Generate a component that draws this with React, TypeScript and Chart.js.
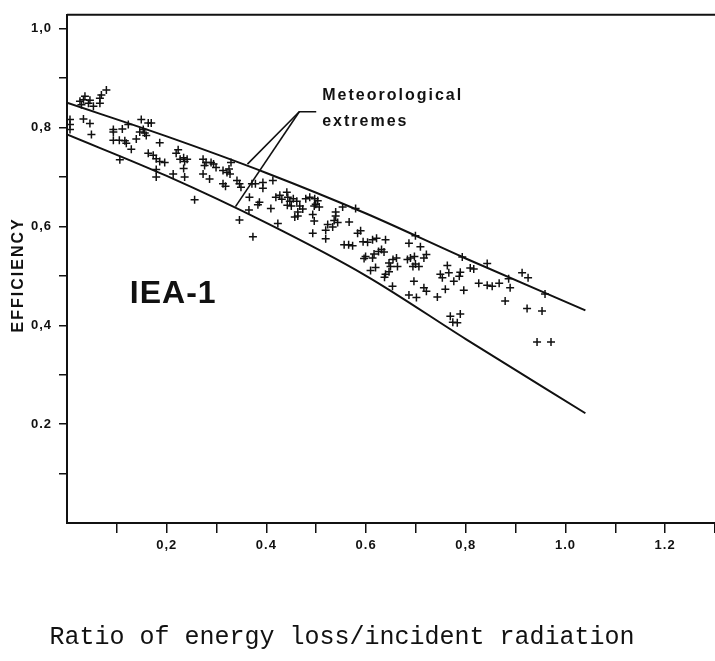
import { useEffect, useRef } from 'react';
import { Chart, registerables } from 'chart.js';

Chart.register(...registerables);

// Measured points: [ratio of energy loss / incident radiation, efficiency]
const measuredPoints: [number, number][] = [
  [0.026, 0.853], [0.033, 0.856], [0.036, 0.863], [0.043, 0.849], [0.029, 0.846], [0.046, 0.855],
  [0.053, 0.843], [0.066, 0.859], [0.066, 0.849], [0.069, 0.866], [0.079, 0.876],
  [0.006, 0.816], [0.006, 0.806], [0.006, 0.796], [0.033, 0.817], [0.046, 0.808], [0.049, 0.786],
  [0.093, 0.796], [0.093, 0.791], [0.111, 0.797], [0.123, 0.806],
  [0.149, 0.816], [0.163, 0.809], [0.169, 0.809], [0.153, 0.796], [0.156, 0.789], [0.159, 0.784],
  [0.146, 0.791], [0.139, 0.777],
  [0.093, 0.774], [0.105, 0.774], [0.116, 0.773], [0.119, 0.768], [0.129, 0.756], [0.106, 0.735],
  [0.186, 0.769], [0.163, 0.748], [0.173, 0.744], [0.179, 0.737], [0.186, 0.731], [0.196, 0.729],
  [0.223, 0.755], [0.219, 0.748], [0.227, 0.736], [0.234, 0.739], [0.241, 0.736], [0.236, 0.731],
  [0.179, 0.715], [0.179, 0.7], [0.213, 0.706], [0.234, 0.717], [0.236, 0.7], [0.256, 0.654],
  [0.273, 0.736], [0.279, 0.729], [0.276, 0.723], [0.273, 0.706], [0.289, 0.729], [0.294, 0.726],
  [0.299, 0.719], [0.286, 0.696], [0.313, 0.713], [0.321, 0.709], [0.325, 0.716], [0.327, 0.706],
  [0.329, 0.729], [0.313, 0.686], [0.318, 0.681], [0.341, 0.693], [0.346, 0.686], [0.349, 0.679],
  [0.366, 0.659], [0.371, 0.686], [0.378, 0.686], [0.393, 0.689], [0.393, 0.677], [0.413, 0.693],
  [0.386, 0.649], [0.383, 0.644], [0.409, 0.636],
  [0.419, 0.659], [0.427, 0.663], [0.431, 0.655], [0.441, 0.669], [0.443, 0.659], [0.447, 0.651],
  [0.454, 0.656], [0.461, 0.651], [0.45, 0.641], [0.442, 0.643],
  [0.467, 0.641], [0.473, 0.635], [0.463, 0.629],
  [0.479, 0.656], [0.487, 0.659], [0.497, 0.656], [0.503, 0.652], [0.499, 0.645], [0.506, 0.639],
  [0.496, 0.641], [0.457, 0.619], [0.463, 0.621], [0.493, 0.624], [0.496, 0.611],
  [0.539, 0.629], [0.539, 0.621], [0.536, 0.612], [0.543, 0.608], [0.533, 0.599], [0.523, 0.604],
  [0.519, 0.592], [0.519, 0.575], [0.493, 0.586], [0.553, 0.639],
  [0.423, 0.606], [0.346, 0.613], [0.373, 0.579], [0.365, 0.633],
  [0.566, 0.609], [0.579, 0.636], [0.589, 0.591], [0.583, 0.586], [0.556, 0.563], [0.565, 0.563],
  [0.573, 0.561], [0.594, 0.569], [0.603, 0.568], [0.613, 0.573], [0.621, 0.576], [0.639, 0.573],
  [0.625, 0.549], [0.631, 0.553], [0.636, 0.548], [0.616, 0.544], [0.599, 0.539], [0.596, 0.535],
  [0.613, 0.536], [0.619, 0.517], [0.609, 0.511],
  [0.646, 0.526], [0.649, 0.519], [0.654, 0.533], [0.661, 0.536], [0.663, 0.519], [0.646, 0.508],
  [0.639, 0.503], [0.637, 0.497], [0.653, 0.479],
  [0.686, 0.566], [0.709, 0.559], [0.683, 0.533], [0.689, 0.536], [0.697, 0.539], [0.699, 0.524],
  [0.694, 0.519], [0.706, 0.519], [0.716, 0.536], [0.721, 0.543],
  [0.696, 0.489], [0.686, 0.461], [0.701, 0.456], [0.716, 0.476], [0.721, 0.469], [0.743, 0.457],
  [0.699, 0.581],
  [0.793, 0.538], [0.763, 0.521], [0.766, 0.506], [0.749, 0.503], [0.753, 0.496], [0.776, 0.489],
  [0.789, 0.507], [0.787, 0.499], [0.809, 0.516], [0.816, 0.514],
  [0.759, 0.473], [0.796, 0.471], [0.843, 0.525], [0.826, 0.485], [0.843, 0.481], [0.853, 0.479],
  [0.867, 0.485], [0.886, 0.494], [0.889, 0.476],
  [0.913, 0.506], [0.925, 0.496], [0.879, 0.449], [0.923, 0.434], [0.953, 0.429], [0.959, 0.463],
  [0.769, 0.418], [0.789, 0.423], [0.774, 0.406], [0.783, 0.405], [0.943, 0.366], [0.971, 0.366],
];

// Meteorological extremes (upper and lower envelope curves)
const upperRatio = [0, 0.2, 0.4, 0.6, 0.8, 1.04];
const upperEfficiency = [0.85, 0.782, 0.708, 0.626, 0.535, 0.43];
const lowerRatio = [0, 0.2, 0.4, 0.6, 0.8, 1.04];
const lowerEfficiency = [0.786, 0.702, 0.607, 0.5, 0.372, 0.222];

// Leader lines from the note to both curves
const leaderUpperRatio = [0.5, 0.466, 0.362];
const leaderUpperEfficiency = [0.832, 0.832, 0.726];
const leaderLowerRatio = [0.466, 0.338];
const leaderLowerEfficiency = [0.832, 0.64];

const xTickValues = [0.1, 0.2, 0.3, 0.4, 0.5, 0.6, 0.7, 0.8, 0.9, 1.0, 1.1, 1.2, 1.3];
const xTickLabels = ['', '0,2', '', '0.4', '', '0.6', '', '0,8', '', '1.0', '', '1.2', ''];
const yTickValues = [0.1, 0.2, 0.3, 0.4, 0.5, 0.6, 0.7, 0.8, 0.9, 1.0];
const yTickLabels = ['', '0.2', '', '0,4', '', '0,6', '', '0,8', '', '1,0'];

const xTitle = 'Ratio of energy loss/incident radiation';
const yTitle = 'EFFICIENCY';
const seriesLabel = 'IEA-1';
const noteLines = ['Meteorological', 'extremes'];

const INK = '#111';
const SANS = '"Liberation Sans", Arial, Helvetica, sans-serif';

const toXY = (xs: number[], ys: number[]) => xs.map((x, i) => ({ x, y: ys[i] }));

const annotationPlugin = {
  id: 'annotations',
  beforeDraw(chart: any) {
    chart.ctx.letterSpacing = '1px';
  },
  afterDraw(chart: any) {
    const { ctx, chartArea, scales } = chart;
    const xs = scales.x;
    const ys = scales.y;
    ctx.save();
    // top frame line
    ctx.strokeStyle = INK;
    ctx.lineWidth = 2;
    ctx.beginPath();
    ctx.moveTo(chartArea.left, chartArea.top);
    ctx.lineTo(chartArea.right, chartArea.top);
    ctx.stroke();

    ctx.fillStyle = INK;
    ctx.textBaseline = 'middle';
    ctx.textAlign = 'left';

    ctx.font = `bold 32px ${SANS}`;
    ctx.letterSpacing = '1px';
    ctx.fillText(seriesLabel, xs.getPixelForValue(0.126), ys.getPixelForValue(0.462));

    ctx.font = `bold 16px ${SANS}`;
    ctx.letterSpacing = '2px';
    ctx.fillText(noteLines[0], xs.getPixelForValue(0.512), ys.getPixelForValue(0.864));
    ctx.fillText(noteLines[1], xs.getPixelForValue(0.512), ys.getPixelForValue(0.812));

    ctx.save();
    ctx.translate(19, (chartArea.top + chartArea.bottom) / 2 + 6);
    ctx.rotate(-Math.PI / 2);
    ctx.textAlign = 'center';
    ctx.fillText(yTitle, 0, 0);
    ctx.restore();

    ctx.font = `25px "Liberation Mono", "Courier New", monospace`;
    ctx.letterSpacing = '0px';
    ctx.textAlign = 'center';
    ctx.fillText(xTitle, chartArea.left + 275, chartArea.bottom + 114);
    ctx.restore();
    ctx.letterSpacing = '0px';
  },
};

export default function App() {
  const canvasRef = useRef<HTMLCanvasElement | null>(null);

  useEffect(() => {
    const canvas = canvasRef.current;
    if (!canvas) return;
    const lineStyle = {
      showLine: true,
      borderColor: INK,
      backgroundColor: INK,
      pointRadius: 0,
      pointHoverRadius: 0,
      fill: false,
    };
    const chart = new Chart(canvas, {
      type: 'scatter',
      data: {
        datasets: [
          {
            label: 'Measured',
            data: measuredPoints.map(([x, y]) => ({ x, y })),
            pointStyle: 'cross',
            pointRadius: 4,
            pointBorderWidth: 1.5,
            borderColor: INK,
            backgroundColor: INK,
            showLine: false,
          },
          {
            label: 'Upper extreme',
            data: toXY(upperRatio, upperEfficiency),
            ...lineStyle,
            borderWidth: 2,
            cubicInterpolationMode: 'monotone',
          },
          {
            label: 'Lower extreme',
            data: toXY(lowerRatio, lowerEfficiency),
            ...lineStyle,
            borderWidth: 2,
            cubicInterpolationMode: 'monotone',
          },
          {
            label: 'Leader upper',
            data: toXY(leaderUpperRatio, leaderUpperEfficiency),
            ...lineStyle,
            borderWidth: 1.6,
            tension: 0,
          },
          {
            label: 'Leader lower',
            data: toXY(leaderLowerRatio, leaderLowerEfficiency),
            ...lineStyle,
            borderWidth: 1.6,
            tension: 0,
          },
        ] as any,
      },
      options: {
        animation: false,
        responsive: false,
        devicePixelRatio: 1,
        layout: { autoPadding: false, padding: { top: 9, left: 0, right: 0, bottom: 0 } },
        plugins: {
          legend: { display: false },
          tooltip: { enabled: false },
        },
        scales: {
          x: {
            type: 'linear',
            position: 'bottom',
            min: 0,
            max: 1.3,
            afterBuildTicks: (scale: any) => {
              scale.ticks = xTickValues.map((value) => ({ value }));
            },
            afterFit: (scale: any) => {
              scale.height = 138;
              scale.paddingLeft = 0;
              scale.paddingRight = 0;
            },
            grid: {
              drawOnChartArea: false,
              drawTicks: true,
              tickLength: 10,
              color: INK,
              lineWidth: 1.5,
            },
            border: { display: true, color: INK, width: 2 },
            ticks: {
              autoSkip: false,
              maxRotation: 0,
              padding: 5,
              color: INK,
              font: { family: SANS, size: 13, weight: 'bold' },
              callback: (_v: any, index: number) => xTickLabels[index],
            },
          },
          y: {
            type: 'linear',
            position: 'left',
            min: 0,
            max: 1.028,
            afterBuildTicks: (scale: any) => {
              scale.ticks = yTickValues.map((value) => ({ value }));
            },
            afterFit: (scale: any) => {
              scale.width = 67;
            },
            grid: {
              drawOnChartArea: false,
              drawTicks: true,
              tickLength: 8,
              color: INK,
              lineWidth: 1.5,
            },
            border: { display: true, color: INK, width: 2 },
            ticks: {
              autoSkip: false,
              padding: 7,
              color: INK,
              font: { family: SANS, size: 13, weight: 'bold' },
              callback: (_v: any, index: number) => yTickLabels[index],
            },
          },
        },
      } as any,
      plugins: [annotationPlugin],
    });
    return () => chart.destroy();
  }, []);

  return (
    <div style={{ position: 'fixed', left: 0, top: 0, width: 715, height: 661, background: '#fff' }}>
      <canvas ref={canvasRef} width={715} height={661} style={{ display: 'block', width: 715, height: 661 }} />
    </div>
  );
}
